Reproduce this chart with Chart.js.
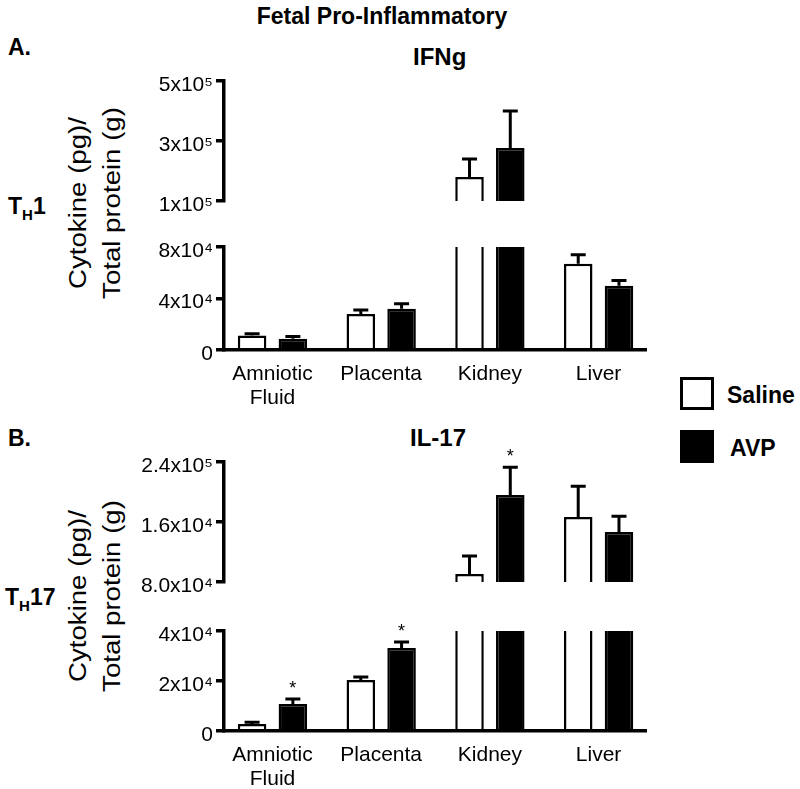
<!DOCTYPE html>
<html>
<head>
<meta charset="utf-8">
<title>Fetal Pro-Inflammatory</title>
<script src="https://cdn.jsdelivr.net/npm/chart.js@4"></script>
<style>
  body { margin: 0; background: #fff; font-family: "Liberation Sans", Arial, sans-serif; color: #000; }
  #page { position: relative; width: 800px; height: 789px; overflow: hidden; }
  #page canvas { position: absolute; left: 100px; }
  .lbl { position: absolute; line-height: 1; white-space: nowrap; font-weight: bold; }
  .sub { font-size: 15px; position: relative; top: 6px; }
  .ytitle { position: absolute; font-size: 23px; line-height: 34px; text-align: center; white-space: nowrap;
            transform: translate(-50%, -50%) rotate(-90deg) scaleX(1.2); }
  .key { position: absolute; left: 680px; width: 34px; height: 33px; border: 3px solid #000; box-sizing: border-box; }
</style>
</head>
<body>
<div id="page">
  <div class="lbl" style="left:382px;top:5px;font-size:23px;transform:translateX(-50%)">Fetal Pro-Inflammatory</div>

  <div class="lbl" style="left:8px;top:36px;font-size:23px">A.</div>
  <div class="lbl" style="left:413px;top:45px;font-size:24px">IFNg</div>
  <div class="lbl" style="left:8px;top:195px;font-size:23px">T<span class="sub">H</span>1</div>
  <div class="ytitle" style="left:95px;top:203px">Cytokine (pg)/<br>Total protein (g)</div>
  <canvas id="ifngHigh" width="566" height="156" style="top:63px"></canvas>
  <canvas id="ifngLow" width="566" height="179" style="top:229px"></canvas>

  <div class="lbl" style="left:8px;top:427px;font-size:23px">B.</div>
  <div class="lbl" style="left:410px;top:426px;font-size:24px">IL-17</div>
  <div class="lbl" style="left:5px;top:586px;font-size:23px">T<span class="sub">H</span>17</div>
  <div class="ytitle" style="left:95px;top:596px">Cytokine (pg)/<br>Total protein (g)</div>
  <canvas id="il17High" width="566" height="156" style="top:444px"></canvas>
  <canvas id="il17Low" width="566" height="176" style="top:613px"></canvas>

  <div class="key" style="top:377px;background:#fff"></div>
  <div class="lbl" style="left:727px;top:384px;font-size:23px">Saline</div>
  <div class="key" style="top:430px;background:#000"></div>
  <div class="lbl" style="left:730px;top:437px;font-size:23px">AVP</div>
</div>

<script>
const categories = [["Amniotic", "Fluid"], "Placenta", "Kidney", "Liver"];
const groups = ["Saline", "AVP"];

// IFNg (panel A): means and SEM
const ifngSaline = [11200, 28000, 180000, 67000];
const ifngSalineSem = [1500, 3000, 60000, 7000];
const ifngAvp = [8800, 32000, 277000, 50000];
const ifngAvpSem = [1600, 4000, 123000, 4000];

// IL-17 (panel B)
const il17Saline = [2800, 20400, 90700, 166700];
const il17SalineSem = [700, 1200, 24000, 41000];
const il17Avp = [10800, 33200, 196000, 146700];
const il17AvpSem = [2000, 2400, 37000, 21000];
const il17AvpSig = [true, true, true, false];

// broken y axes: lower and upper segments
const ifngLowTicks = [0, 40000, 80000];
const ifngLowLabels = ["0", "4x10⁴", "8x10⁴"];
const ifngHighTicks = [100000, 300000, 500000];
const ifngHighLabels = ["1x10⁵", "3x10⁵", "5x10⁵"];
const il17LowTicks = [0, 20000, 40000];
const il17LowLabels = ["0", "2x10⁴", "4x10⁴"];
const il17HighTicks = [80000, 160000, 240000];
const il17HighLabels = ["8.0x10⁴", "1.6x10⁴", "2.4x10⁵"];

Chart.defaults.font.family = '"Liberation Sans", Arial, sans-serif';
Chart.defaults.color = "#000";

// error bars (upward only) and significance stars
const errorBars = {
  id: "errorBars",
  afterDatasetsDraw(chart, args, opts) {
    const ctx = chart.ctx;
    const y = chart.scales.y;
    chart.data.datasets.forEach((ds, di) => {
      const meta = chart.getDatasetMeta(di);
      ds.means.forEach((m, i) => {
        if (opts.upper ? m <= opts.lo : m > opts.hi) return;
        const bar = meta.data[i];
        const y0 = y.getPixelForValue(m);
        const y1 = y.getPixelForValue(Math.min(m + ds.sems[i], opts.hi));
        ctx.save();
        ctx.strokeStyle = "#000";
        ctx.lineWidth = 3;
        ctx.beginPath();
        ctx.moveTo(bar.x, y0);
        ctx.lineTo(bar.x, y1);
        ctx.moveTo(bar.x - 7.5, y1);
        ctx.lineTo(bar.x + 7.5, y1);
        ctx.stroke();
        if (ds.sig && ds.sig[i]) {
          ctx.fillStyle = "#000";
          ctx.font = '18px "Liberation Sans", Arial, sans-serif';
          ctx.textAlign = "center";
          ctx.fillText("*", bar.x, y1 - 5);
        }
        ctx.restore();
      });
    });
  }
};

function makeChart(id, series, ticks, labels, upper) {
  const lo = ticks[0], hi = ticks[ticks.length - 1];
  const datasets = series.map(s => {
    const cut = i => !upper && s.values[i] > hi;
    return {
      label: s.name,
      data: s.values.map(v => upper ? (v > lo ? [lo, v] : null) : Math.min(v, hi)),
      means: s.values,
      sems: s.sems,
      sig: s.sig,
      backgroundColor: s.fill,
      borderColor: "#000",
      borderWidth: c => cut(c.dataIndex) ? { left: 2.5, right: 2.5, top: 0, bottom: 0 } : 2.5,
      borderSkipped: c => cut(c.dataIndex) ? "top" : "start",
      categoryPercentage: 0.75,
      barPercentage: 0.7
    };
  });

  return new Chart(document.getElementById(id), {
    type: "bar",
    data: { labels: categories.map((c, i) => i), datasets },
    options: {
      responsive: false,
      animation: false,
      layout: { padding: { top: 18, bottom: upper ? 18 : 0, left: 0, right: 20 } },
      plugins: {
        legend: { display: false },
        tooltip: { enabled: false },
        errorBars: { lo, hi, upper }
      },
      scales: {
        x: {
          type: "linear",
          display: !upper,
          min: -0.446,
          max: 3.436,
          offset: false,
          afterBuildTicks: s => { s.ticks = categories.map((c, i) => ({ value: i })); },
          afterFit: s => { if (!upper) s.height = 58; },
          grid: { display: false },
          border: { color: "#000", width: 3.5, z: 1 },
          ticks: {
            autoSkip: false,
            maxRotation: 0,
            padding: 4,
            color: "#000",
            font: { size: 21, lineHeight: 1.15 },
            callback: v => categories[v]
          }
        },
        y: {
          min: lo,
          max: hi,
          afterBuildTicks: s => { s.ticks = ticks.map(v => ({ value: v })); },
          afterFit: s => { s.width = 124; },
          grid: { drawOnChartArea: false, color: "#000", lineWidth: 3.5, tickLength: 8 },
          border: { color: "#000", width: 3.5 },
          ticks: {
            color: "#000",
            padding: 3,
            labelOffset: 4,
            font: { size: 21 },
            callback: (v, i) => labels[i]
          }
        }
      }
    },
    plugins: [errorBars]
  });
}

const ifngSeries = [
  { name: groups[0], values: ifngSaline, sems: ifngSalineSem, fill: "#fff" },
  { name: groups[1], values: ifngAvp, sems: ifngAvpSem, fill: "#000" }
];
const il17Series = [
  { name: groups[0], values: il17Saline, sems: il17SalineSem, fill: "#fff" },
  { name: groups[1], values: il17Avp, sems: il17AvpSem, sig: il17AvpSig, fill: "#000" }
];

makeChart("ifngHigh", ifngSeries, ifngHighTicks, ifngHighLabels, true);
makeChart("ifngLow", ifngSeries, ifngLowTicks, ifngLowLabels, false);
makeChart("il17High", il17Series, il17HighTicks, il17HighLabels, true);
makeChart("il17Low", il17Series, il17LowTicks, il17LowLabels, false);
</script>
</body>
</html>
